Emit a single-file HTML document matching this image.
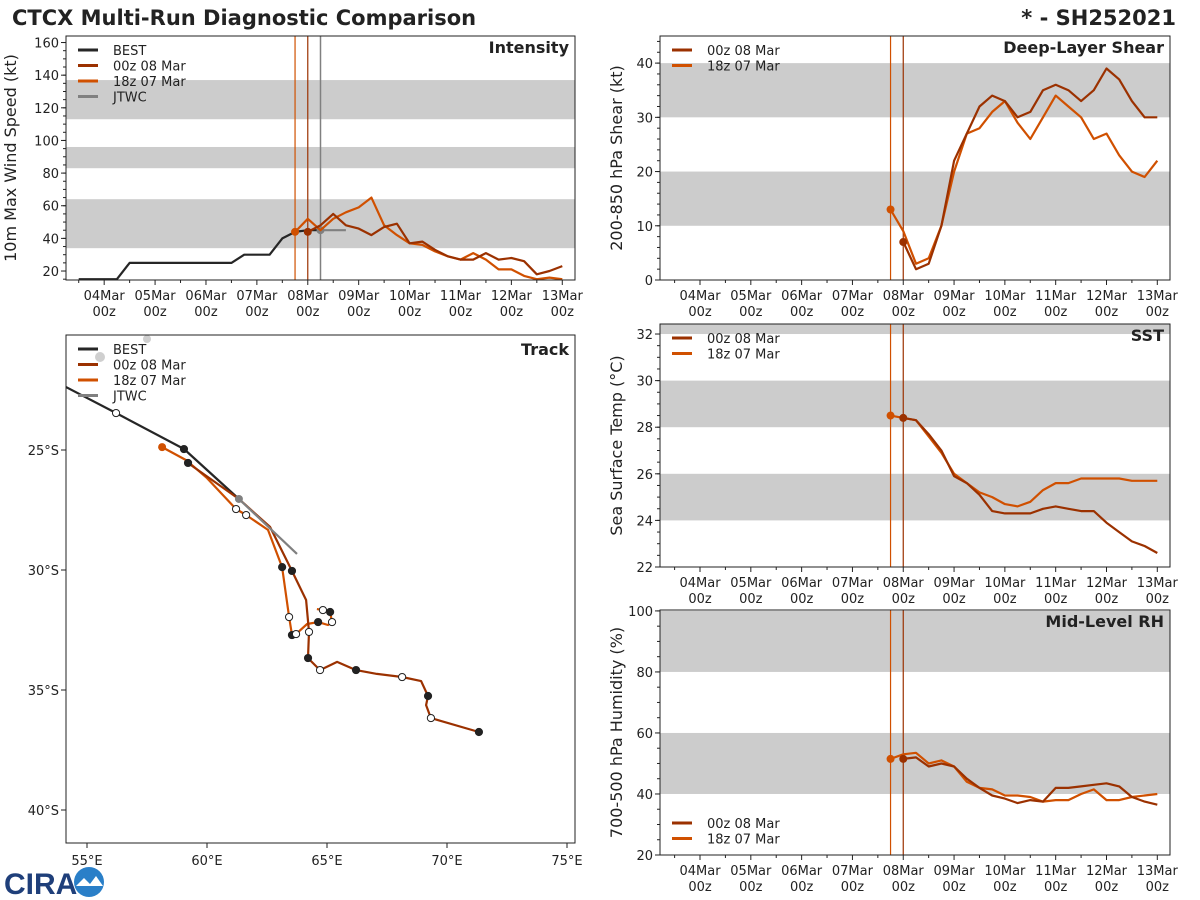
<!DOCTYPE html>
<html><head><meta charset="utf-8">
<style>
html,body{margin:0;padding:0;background:#fff;}
svg{display:block;font-family:"DejaVu Sans","Liberation Sans",sans-serif;}
</style></head>
<body>
<svg id="fig" width="1200" height="900" viewBox="0 0 1200 900" xmlns="http://www.w3.org/2000/svg">
<text x="12" y="25" font-size="21" font-weight="bold" fill="#222">CTCX Multi-Run Diagnostic Comparison</text>
<text x="1176" y="25" font-size="21" font-weight="bold" fill="#222" text-anchor="end">* - SH252021</text>
<g>
<text x="4" y="894" font-size="30" font-weight="bold" fill="#1f3f7a" font-family="Liberation Sans, sans-serif">CIRA</text>
<circle cx="89" cy="882" r="15" fill="#2a7fc8"/>
<path d="M76 886 L84 878 L90 884 L96 876 L103 886 Z" fill="#fff"/>
</g>
</svg>
<script>
// ---------- DATA ----------
const dayLabels = ["04Mar","05Mar","06Mar","07Mar","08Mar","09Mar","10Mar","11Mar","12Mar","13Mar"];
// intensity (hours from 04Mar 00z)
const bestT = [-12,-6,0,6,12,18,24,30,36,42,48,54,60,66,72,78,84,90,96,102];
const bestV = [15,15,15,15,25,25,25,25,25,25,25,25,25,30,30,30,40,44,45,45];
const jtwcT = [102,108,114];
const jtwcV = [45,45,45];
const r00T = [96,102,108,114,120,126,132,138,144,150,156,162,168,174,180,186,192,198,204,210,216];
const r00V = [44,48,55,48,46,42,47,49,37,38,33,29,27,27,31,27,28,26,18,20,23];
const r18T = [90,96,102,108,114,120,126,132,138,144,150,156,162,168,174,180,186,192,198,204,210,216];
const r18V = [44,52,45,52,56,59,65,48,42,37,36,32,29,27,31,27,21,21,17,15,16,15];
// shear
const shr00 = [7,2,3,10,22,27,32,34,33,30,31,35,36,35,33,35,39,37,33,30,30];
const shr18 = [13,9,3,4,10,20,27,28,31,33,29,26,30,34,32,30,26,27,23,20,19,22];
// SST
const sst00 = [28.4,28.3,27.7,27.0,25.9,25.6,25.1,24.4,24.3,24.3,24.3,24.5,24.6,24.5,24.4,24.4,23.9,23.5,23.1,22.9,22.6];
const sst18 = [28.5,28.4,28.3,27.6,26.9,26.0,25.6,25.2,25.0,24.7,24.6,24.8,25.3,25.6,25.6,25.8,25.8,25.8,25.8,25.7,25.7,25.7];
// RH
const rh00 = [51.5,52,49,50,49,45,42,39.5,38.5,37,38,37.5,42,42,42.5,43,43.5,42.5,39,37.5,36.5];
const rh18 = [51.5,53,53.5,50,51,49,44,42,41.5,39.5,39.5,39,37.5,38,38,40,41.5,38,38,39,39.5,40];
// track (lon E, lat S); marker: 1 filled, 0 open, -1 none
const bestLon = [54.13,56.21,59.04,61.33];
const bestLat = [22.38,23.46,24.96,27.04];
const bestMk = [-1,0,1,-1];
const jtwcLon = [61.33,63.75];
const jtwcLat = [27.04,29.33];
const tr00Lon = [59.21,61.33,62.63,63.54,64.13,64.25,64.21,64.71,65.42,66.21,67.08,68.13,68.92,69.21,69.13,69.33,71.33];
const tr00Lat = [25.54,27.04,28.21,30.04,31.25,32.58,33.67,34.17,33.83,34.17,34.33,34.46,34.63,35.25,35.63,36.17,36.75];
const tr00Mk = [1,-1,-1,1,-1,0,1,0,-1,1,-1,0,-1,1,-1,0,1];
const tr18Lon = [58.13,59.13,60.0,61.21,61.63,62.54,63.13,63.42,63.54,63.71,64.17,64.63,65.04,65.21,65.13,64.83,64.58];
const tr18Lat = [24.88,25.42,26.17,27.46,27.71,28.33,29.88,31.96,32.71,32.67,32.25,32.17,32.29,32.17,31.75,31.67,31.63];
const tr18Mk = [-1,-1,-1,0,0,-1,1,0,1,0,-1,1,-1,0,1,0,-1];

const C00="#9b3100", C18="#d05000", CB="#262626", CJ="#808080", BAND="#cccccc";
const NS="http://www.w3.org/2000/svg";
const svg=document.getElementById('fig');
function mk(tag,attrs,parent){const e=document.createElementNS(NS,tag);for(const k in attrs)e.setAttribute(k,attrs[k]);(parent||svg).appendChild(e);return e;}
function txt(s,attrs,parent){const e=mk('text',attrs,parent);e.textContent=s;return e;}

function timePanel(o){
  const g=mk('g',{});
  
  
  const xs=t=>o.x0+(t-o.t0)*(o.x1-o.x0)/(o.t1-o.t0);
  const ys=v=>o.y1-(v-o.v0)*(o.y1-o.y0)/(o.v1-o.v0);
  const clip='clip-'+o.name;
  const cp=mk('clipPath',{id:clip},g);mk('rect',{x:o.x0,y:o.y0,width:o.x1-o.x0,height:o.y1-o.y0},cp);
  const inner=mk('g',{'clip-path':'url(#'+clip+')'},g);
  o.bands.forEach(b=>{const r=mk('rect',{x:o.x0,y:ys(b[1]),width:o.x1-o.x0,height:ys(b[0])-ys(b[1]),fill:BAND},inner);
    });
  [[90,C18],[96,C00]].forEach(v=>{mk('line',{x1:xs(v[0]),x2:xs(v[0]),y1:o.y0,y2:o.y1,stroke:v[1],'stroke-width':1.2},inner);});
  if(o.jtwcLine) mk('line',{x1:xs(102),x2:xs(102),y1:o.y0,y2:o.y1,stroke:CJ,'stroke-width':1.5},inner);
  o.series.forEach(s=>{
    const pts=s.t.map((t,i)=>xs(t).toFixed(1)+','+ys(s.v[i]).toFixed(1)).join(' ');
    const p=mk('polyline',{points:pts,fill:'none',stroke:s.c,'stroke-width':s.w||2.2,'stroke-linejoin':'round'},inner);
    
    if(s.dot){mk('circle',{cx:xs(s.t[0]),cy:ys(s.v[0]),r:4,fill:s.c},inner);}
  });
  mk('rect',{x:o.x0,y:o.y0,width:o.x1-o.x0,height:o.y1-o.y0,fill:'none',stroke:'#222','stroke-width':1},g);
  // y ticks
  for(let v=o.ymin;v<=o.v1+1e-6;v+=o.ystep){
    const y=ys(v);mk('line',{x1:o.x0-5,x2:o.x0,y1:y,y2:y,stroke:'#222'},g);
    txt(String(v),{x:o.x0-7,y:y+5,'font-size':13,'text-anchor':'end',fill:'#222'},g);
  }
  for(let v=o.ymin-o.yminor*Math.floor((o.ymin-o.v0)/o.yminor);v<=o.v1;v+=o.yminor){const y=ys(v);mk('line',{x1:o.x0-3,x2:o.x0,y1:y,y2:y,stroke:'#222'},g);}
  // x ticks
  dayLabels.forEach((d,i)=>{const x=xs(i*24);mk('line',{x1:x,x2:x,y1:o.y1,y2:o.y1+5,stroke:'#222'},g);
    txt(d,{x:x,y:o.y1+20,'font-size':13,'text-anchor':'middle',fill:'#222'},g);
    txt('00z',{x:x,y:o.y1+36,'font-size':13,'text-anchor':'middle',fill:'#222'},g);});
  for(let t=-12;t<=o.t1;t+=12){if(t%24){const x=xs(t);mk('line',{x1:x,x2:x,y1:o.y1,y2:o.y1+3,stroke:'#222'},g);}}
  const yl=txt(o.ylabel,{x:0,y:0,'font-size':16,'text-anchor':'middle',fill:'#222',transform:`translate(${o.x0-o.ylx},${(o.y0+o.y1)/2}) rotate(-90)`},g);
  
  const tt=txt(o.title,{x:o.x1-6,y:o.y0+17,'font-size':16,'font-weight':'bold','text-anchor':'end',fill:'#222'},g);
  
  const lg=mk('g',{},g);
  o.legend.forEach((l,i)=>{const y=o.legY+i*15.5;mk('line',{x1:o.x0+12,x2:o.x0+32,y1:y,y2:y,stroke:l[1],'stroke-width':3},lg);
    txt(l[0],{x:o.x0+47,y:y+5,'font-size':13,fill:'#222'},lg);});
}
const L4=[["BEST",CB],["00z 08 Mar",C00],["18z 07 Mar",C18],["JTWC",CJ]];
const L2=[["00z 08 Mar",C00],["18z 07 Mar",C18]];
timePanel({name:'intensity',x0:66,x1:575,y0:36,y1:280,t0:-18,t1:222,v0:14.5,v1:164,ymin:20,ystep:20,yminor:5,
  bands:[[34,64],[83,96],[113,137]],jtwcLine:true,ylabel:'10m Max Wind Speed (kt)',ylx:50,title:'Intensity',legY:50,legend:L4,
  series:[{t:bestT,v:bestV,c:CB,n:'best-intensity-line'},{t:jtwcT,v:jtwcV,c:CJ,n:'jtwc-intensity-line',dot:true},
  {t:r18T,v:r18V,c:C18,n:'run-18z-intensity-line',dot:true},{t:r00T,v:r00V,c:C00,n:'run-00z-intensity-line',dot:true}]});
timePanel({name:'shear',x0:660,x1:1170,y0:36,y1:280,t0:-18.9,t1:222,v0:0,v1:45,ymin:0,ystep:10,yminor:2,
  bands:[[10,20],[30,40]],ylabel:'200-850 hPa Shear (kt)',ylx:38,title:'Deep-Layer Shear',legY:50,legend:L2,
  series:[{t:r18T,v:shr18,c:C18,n:'run-18z-shear-line',dot:true},{t:r00T,v:shr00,c:C00,n:'run-00z-shear-line',dot:true}]});
timePanel({name:'sst',x0:660,x1:1170,y0:324,y1:567,t0:-18.9,t1:222,v0:22,v1:32.43,ymin:22,ystep:2,yminor:0.5,
  bands:[[24,26],[28,30],[32,34]],ylabel:'Sea Surface Temp (°C)',ylx:38,title:'SST',legY:338,legend:L2,
  series:[{t:r18T,v:sst18,c:C18,n:'run-18z-sst-line',dot:true},{t:r00T,v:sst00,c:C00,n:'run-00z-sst-line',dot:true}]});
timePanel({name:'rh',x0:660,x1:1170,y0:610,y1:855,t0:-18.9,t1:222,v0:20,v1:100.3,ymin:20,ystep:20,yminor:5,
  bands:[[40,60],[80,100]],ylabel:'700-500 hPa Humidity (%)',ylx:38,title:'Mid-Level RH',legY:823,legend:L2,
  series:[{t:r18T,v:rh18,c:C18,n:'run-18z-rh-line',dot:true},{t:r00T,v:rh00,c:C00,n:'run-00z-rh-line',dot:true}]});

// ---------- TRACK ----------
(function(){
  const x0=66,x1=575,y0=335,y1=843;
  const g=mk('g',{});
  const xs=lon=>87+(lon-55)*24, ys=lat=>450+(lat-25)*24;
  const cp=mk('clipPath',{id:'clip-track'},g);mk('rect',{x:x0,y:y0,width:x1-x0,height:y1-y0},cp);
  const inner=mk('g',{'clip-path':'url(#clip-track)'},g);
  mk('ellipse',{cx:100,cy:357,rx:5,ry:5,fill:'#cfcfcf'},inner);
  mk('ellipse',{cx:147,cy:339,rx:4,ry:4,fill:'#cfcfcf'},inner);
  function track(lon,lat,mks,c,w,n){
    const p=mk('polyline',{points:lon.map((v,i)=>xs(v).toFixed(1)+','+ys(lat[i]).toFixed(1)).join(' '),fill:'none',stroke:c,'stroke-width':w,'stroke-linejoin':'round'},inner);
    
    if(mks) mks.forEach((m,i)=>{if(m<0)return;mk('circle',{cx:xs(lon[i]),cy:ys(lat[i]),r:3.6,fill:m?'#222':'#fff',stroke:'#222','stroke-width':1},inner);});
  }
  track(bestLon,bestLat,bestMk,CB,2.2,'best-track');
  track(tr18Lon,tr18Lat,tr18Mk,C18,2.2,'run-18z-track');
  mk('circle',{cx:xs(tr18Lon[0]),cy:ys(tr18Lat[0]),r:4,fill:C18},inner);
  track(tr00Lon,tr00Lat,tr00Mk,C00,2.2,'run-00z-track');
  track(jtwcLon,jtwcLat,null,CJ,2.2,'jtwc-track');
  mk('circle',{cx:xs(jtwcLon[0]),cy:ys(jtwcLat[0]),r:4,fill:CJ},inner);
  mk('rect',{x:x0,y:y0,width:x1-x0,height:y1-y0,fill:'none',stroke:'#222'},g);
  [55,60,65,70,75].forEach(l=>{const x=xs(l);mk('line',{x1:x,x2:x,y1:y1,y2:y1+5,stroke:'#222'},g);
    txt(l+'°E',{x:x,y:y1+22,'font-size':13,'text-anchor':'middle',fill:'#222'},g);});
  [25,30,35,40].forEach(l=>{const y=ys(l);mk('line',{x1:x0-5,x2:x0,y1:y,y2:y,stroke:'#222'},g);
    txt(l+'°S',{x:x0-7,y:y+5,'font-size':13,'text-anchor':'end',fill:'#222'},g);});
  const tt=txt('Track',{x:x1-6,y:y0+20,'font-size':16,'font-weight':'bold','text-anchor':'end',fill:'#222'},g);
  
  const lg=mk('g',{},g);
  L4.forEach((l,i)=>{const y=349+i*15.5;mk('line',{x1:x0+12,x2:x0+32,y1:y,y2:y,stroke:l[1],'stroke-width':3},lg);
    txt(l[0],{x:x0+47,y:y+5,'font-size':13,fill:'#222'},lg);});
})();
</script>
</body></html>
